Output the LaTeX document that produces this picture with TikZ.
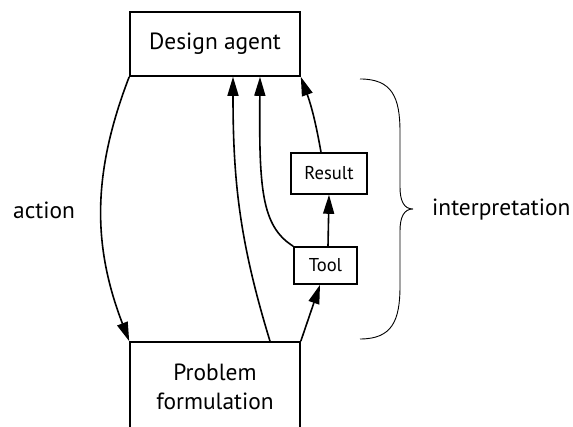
\documentclass[tikz,border=0pt]{standalone}
\usepackage{fontspec}
\setmainfont{PT Sans}
\usetikzlibrary{arrows.meta}
\begin{document}
\begin{tikzpicture}[x=1pt,y=1pt,
  bigtext/.style={font=\fontsize{23.4}{29}\selectfont},
  smalltext/.style={font=\fontsize{18.6}{21}\selectfont},
  bigbox/.style={draw,line width=1.6pt,minimum width=170pt,inner sep=0pt,bigtext,align=center},
  smallbox/.style={draw,line width=1.6pt,inner sep=0pt,smalltext},
  link/.style={line width=1.6pt,-{Triangle[length=19pt,width=11pt]}},
  brace/.style={line width=0.9pt}]
\useasboundingbox (0,0) rectangle (573,427);
% boxes
\node[bigbox,minimum height=64pt] (agent) at (215,383) {Design agent};
\node[bigbox,minimum height=90pt] (problem) at (215,40) {Problem\\formulation};
\node[smallbox,minimum width=76pt,minimum height=41pt] (result) at (329,253.5) {Result};
\node[smallbox,minimum width=63pt,minimum height=37pt] (tool) at (325.5,161.5) {Tool};
% side labels
\node[bigtext,anchor=base west,inner sep=0pt] (action) at (13,208) {action};
\node[bigtext,anchor=base west,inner sep=0pt] (interp) at (432,211) {interpretation};
% connectors
\draw[link] (agent.south west) to[bend right=21] (problem.north west);
\draw[link] ([xshift=55pt]problem.north) to[out=107,in=-90] ([xshift=18pt]agent.south);
\draw[link] (tool.north west) .. controls +(-32,20) and +(-1,-111) .. ([xshift=45pt]agent.south);
\draw[link] ([xshift=2.5pt]tool.north) -- (result.south);
\draw[link] ([xshift=-8pt]result.north) to[bend right=5] (agent.south east);
\draw[link] (problem.north east) -- ([xshift=-5.5pt]tool.south);
% curly brace
\coordinate (btop) at (360,348);
\coordinate (bbot) at (360,88);
\coordinate (btip) at (413,218);
\draw[brace] (btop) .. controls (392,348) and (400,330) .. (400,295)
  -- (400,240) .. controls (400,226) and (404,218) .. (btip)
  (btip) .. controls (404,218) and (400,210) .. (400,196)
  -- (400,141) .. controls (400,106) and (392,88) .. (bbot);
\end{tikzpicture}
\end{document}
